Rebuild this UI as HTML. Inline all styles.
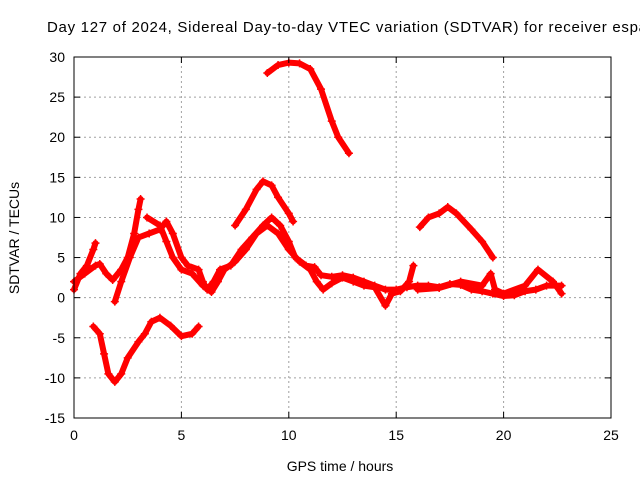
<!DOCTYPE html>
<html><head><meta charset="utf-8"><style>
html,body{margin:0;padding:0;background:#fff;}
svg{display:block;font-family:"Liberation Sans",sans-serif;}
</style></head><body>
<svg id="chart" width="640" height="480">
<text x="47" y="32" font-size="15" textLength="600" lengthAdjust="spacing">Day 127 of 2024, Sidereal Day-to-day VTEC variation (SDTVAR) for receiver espa</text>
<text x="340" y="471" font-size="14" text-anchor="middle">GPS time / hours</text>
<text transform="translate(19,238) rotate(-90)" font-size="14" text-anchor="middle">SDTVAR / TECUs</text>
<g id="grid"></g><g id="marks"></g><g id="axes"></g>
</svg>
<script>
const xTicks=[0,5,10,15,20,25];
const yTicks=[-15,-10,-5,0,5,10,15,20,25,30];
const s1=[[0,1],[0.3,3],[0.6,4],[0.9,6],[1,6.8]];
const s2=[[0,2],[0.5,3],[1,4],[1.2,4.2],[1.5,3],[1.8,2.2],[2.2,3.5],[2.5,5],[2.8,8],[3,11],[3.1,12.3]];
const s3=[[1.9,-0.5],[2.2,2],[2.6,5],[3,7.5],[3.5,8],[4,8.5],[4.3,9.5],[4.6,8],[5,5],[5.3,4],[5.8,3.5],[6,2],[6.2,1],[6.5,2],[6.8,3.5],[7.3,4],[7.8,6],[8.3,7.5],[8.8,9],[9.2,10],[9.6,9],[10,7],[10.3,5],[10.8,4],[11.2,3.8],[11.5,2.8],[12,2.6],[12.5,2.8],[13,2.5],[13.5,2],[14,1.5],[14.5,1],[15,1],[15.5,1.3],[16,1.5],[16.5,1.5],[17,1.3],[17.5,1.7],[18,1.6],[18.5,1],[19,0.8],[19.5,0.5],[20,0.2],[20.5,0.3],[21,0.8],[21.5,1],[22,1.5],[22.7,1.5]];
const s4=[[3.4,10],[4,9],[4.3,7],[4.6,5],[5,3.5],[5.5,3],[6,1.5],[6.4,0.7],[6.7,2],[7,3.5],[7.5,4.5],[8,6],[8.5,8],[9,9],[9.5,8],[10,6],[10.5,4.5],[11,3.5],[11.3,2],[11.6,1],[12,1.8],[12.5,2.5],[13,2],[13.5,1.5],[14,1.3],[14.5,-1],[14.8,0.5],[15.2,0.8],[15.6,2],[15.8,4]];
const s5=[[7.5,9],[8,11],[8.5,13.5],[8.8,14.5],[9.2,14],[9.5,12.5],[10,10.5],[10.2,9.5]];
const s6=[[9,28],[9.5,29],[10,29.3],[10.5,29.2],[11,28.5],[11.5,26],[12,22],[12.3,20],[12.8,18]];
const s7=[[16.1,8.8],[16.5,10],[17,10.5],[17.4,11.3],[17.8,10.5],[18.5,8.5],[19,7],[19.5,5]];
const s8=[[0.9,-3.6],[1.2,-4.5],[1.4,-7],[1.6,-9.5],[1.9,-10.5],[2.2,-9.5],[2.5,-7.5],[3,-5.5],[3.3,-4.5],[3.6,-3],[4,-2.5],[4.5,-3.5],[5,-4.8],[5.5,-4.5],[5.8,-3.6]];
const s9=[[16,1],[17,1.2],[18,2],[19,1.5],[19.4,3],[19.6,1],[20,0.5],[21,1.5],[21.6,3.5],[22.3,2],[22.7,0.5]];
const seriesList=[s1,s2,s3,s4,s5,s6,s7,s8,s9];
const X0=74,X1=611,Y0=418,Y1=57;
const xs=v=>X0+(v-0)/(25-0)*(X1-X0);
const ys=v=>Y0-(v+15)/(45)*(Y0-Y1);
const NS="http://www.w3.org/2000/svg";
function mk(t,a,p){const e=document.createElementNS(NS,t);for(const k in a)e.setAttribute(k,a[k]);p.appendChild(e);return e;}
const grid=document.getElementById('grid'),axes=document.getElementById('axes'),marks=document.getElementById('marks');
xTicks.forEach(t=>{
 const x=xs(t);
 if(t>0&&t<25){const g=mk('line',{x1:x,x2:x,y1:Y0,y2:Y1,stroke:'#a0a0a0','stroke-dasharray':'2,3','stroke-width':1},grid);
 }
 mk('line',{x1:x,x2:x,y1:Y0,y2:Y0-6,stroke:'#000'},axes);
 mk('line',{x1:x,x2:x,y1:Y1,y2:Y1+6,stroke:'#000'},axes);
 const l=mk('text',{x:x,y:Y0+22,'font-size':14,'text-anchor':'middle'},axes);l.textContent=t;
 
});
yTicks.forEach(t=>{
 const y=ys(t);
 if(t>-15&&t<30){const g=mk('line',{x1:X0,x2:X1,y1:y,y2:y,stroke:'#a0a0a0','stroke-dasharray':'2,3','stroke-width':1},grid);
 }
 mk('line',{x1:X0,x2:X0+6,y1:y,y2:y,stroke:'#000'},axes);
 mk('line',{x1:X1,x2:X1-6,y1:y,y2:y,stroke:'#000'},axes);
 const l=mk('text',{x:X0-9,y:y+5,'font-size':14,'text-anchor':'end'},axes);l.textContent=t;
 
});
const fr=mk('rect',{x:X0,y:Y1,width:X1-X0,height:Y0-Y1,fill:'none',stroke:'#000'},axes);

seriesList.forEach((s,i)=>{
 const g=mk('g',{},marks);
 
 
 mk('polyline',{points:s.map(p=>xs(p[0])+','+ys(p[1])).join(' '),fill:'none',stroke:'#ff0000','stroke-width':6,'stroke-linejoin':'round','stroke-linecap':'round'},g);
 s.forEach(p=>{
  const x=xs(p[0]),y=ys(p[1]);
  const m=mk('path',{d:`M${x-4},${y}H${x+4}M${x},${y-4}V${y+4}`,stroke:'#ff0000','stroke-width':1.5},g);
  
  
 });
});
</script>
</body></html>
